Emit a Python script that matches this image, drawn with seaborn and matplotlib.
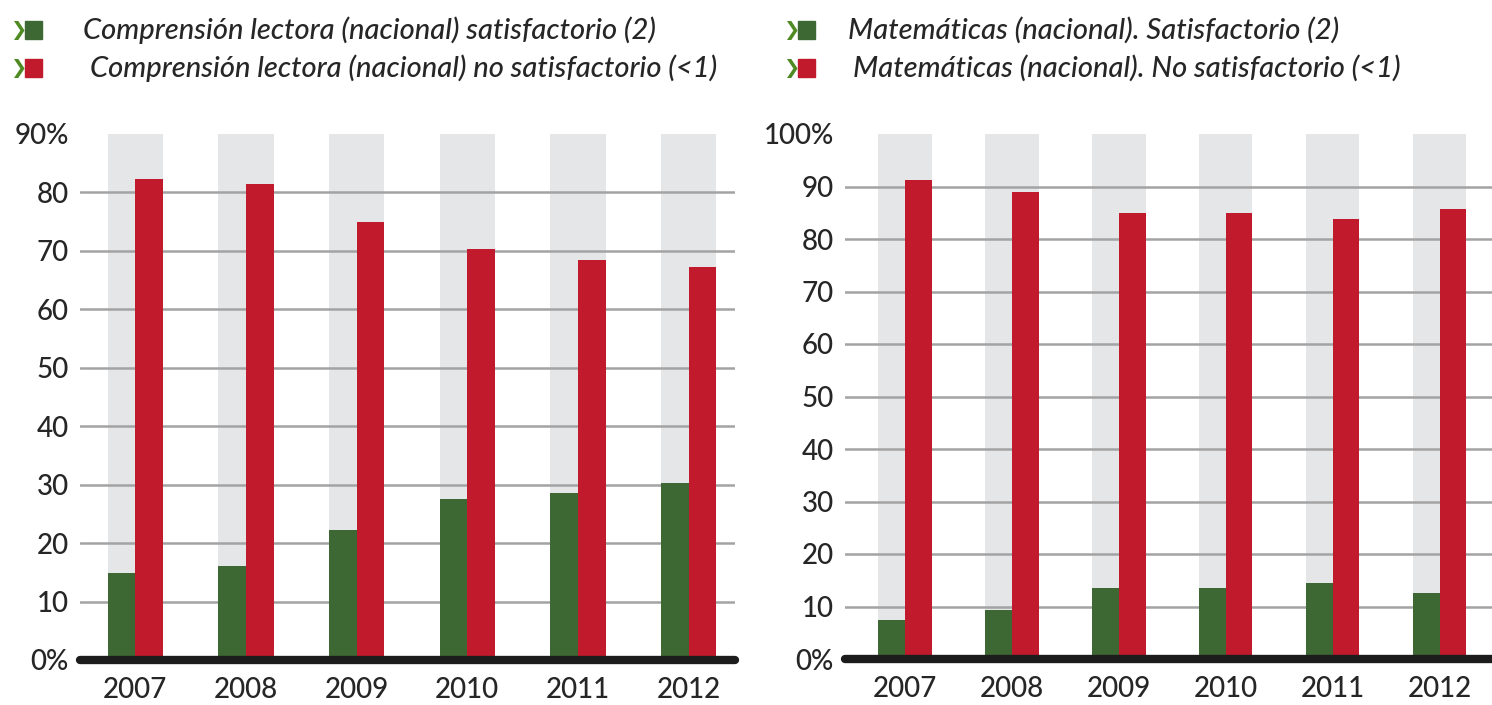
import numpy as np
import pandas as pd
import matplotlib
matplotlib.use('Agg')
import matplotlib.pyplot as plt
import seaborn as sns
from matplotlib.patches import Rectangle

years = ['2007', '2008', '2009', '2010', '2011', '2012']

lect_ok = [14.9, 16.1, 22.2, 27.5, 28.5, 30.2]
lect_no = [82.3, 81.4, 74.9, 70.3, 68.5, 67.2]
mat_ok = [7.4, 9.3, 13.5, 13.5, 14.4, 12.6]
mat_no = [91.2, 89.0, 84.9, 84.9, 83.9, 85.8]

lect_labels = ['Comprensión lectora (nacional) satisfactorio (2)',
               'Comprensión lectora (nacional) no satisfactorio (<1)']
mat_labels = ['Matemáticas (nacional). Satisfactorio (2)',
              'Matemáticas (nacional). No satisfactorio (<1)']

lect_ticks = [0, 10, 20, 30, 40, 50, 60, 70, 80, 90]
mat_ticks = [0, 10, 20, 30, 40, 50, 60, 70, 80, 90, 100]

GREEN = '#3d6834'
RED = '#c01a2c'
BAND = '#e5e6e8'
GRID = '#a3a3a3'
TXT = '#262626'
CHEV = '#4f8a22'

sns.set_theme(style='white')
plt.rcParams['font.family'] = ['Lato', 'DejaVu Sans']


def make_df(ok, no, labels):
    return pd.DataFrame({
        'year': years * 2,
        'serie': [labels[0]] * len(years) + [labels[1]] * len(years),
        'value': ok + no,
    })


def draw_panel(ax, df, labels, ticks, xlim):
    top = ticks[-1]
    ax.bar(np.arange(len(years)), top, width=0.5, color=BAND, lw=0, zorder=0.2)
    sns.barplot(data=df, x='year', y='value', hue='serie', hue_order=labels,
                palette=[GREEN, RED], width=0.5, gap=0, saturation=1,
                order=years, ax=ax, legend=False, zorder=1, linewidth=0)
    ax.set_ylim(0, top)
    ax.set_xlim(*xlim)
    ax.set_yticks(ticks)
    tl = [str(t) for t in ticks]
    tl[0] = '0%'
    tl[-1] = f'{ticks[-1]}%'
    ax.set_yticklabels(tl)
    ax.set_axisbelow(True)
    ax.yaxis.grid(True, color=GRID, lw=1.8)
    # no gridline at the top value
    ax.get_ygridlines()[-1].set_visible(False)
    ax.axhline(0, color='#1c1c1c', lw=6, zorder=3, clip_on=False)
    sns.despine(ax=ax, left=True, bottom=True)
    ax.tick_params(axis='y', length=0, pad=8, labelsize=20, labelcolor=TXT)
    ax.tick_params(axis='x', length=0, pad=12, labelsize=20, labelcolor=TXT)
    for t in ax.get_xticklabels() + ax.get_yticklabels():
        t.set_fontweight('medium')
    ax.set_xlabel('')
    ax.set_ylabel('')


fig = plt.figure(figsize=(14.92, 7.05), dpi=100)
W, H = 1492, 705

ax1 = fig.add_axes([80 / W, 1 - 660 / H, 655 / W, 526 / H])
ax2 = fig.add_axes([845 / W, 1 - 659 / H, 647 / W, 525 / H])

draw_panel(ax1, make_df(lect_ok, lect_no, lect_labels), lect_labels, lect_ticks, (-0.5, 5.42))
draw_panel(ax2, make_df(mat_ok, mat_no, mat_labels), mat_labels, mat_ticks, (-0.56, 5.49))


def legend_block(x0, text_x, labels):
    for i, (lab, col) in enumerate(zip(labels, [GREEN, RED])):
        yc = 30 + 38 * i
        fig.text(x0 / W, 1 - yc / H, '\u276F', color=CHEV, fontsize=14,
                 family='DejaVu Sans', ha='left', va='center')
        fig.patches.append(Rectangle(((x0 + 15) / W, 1 - (yc + 9) / H), 17 / W, 18 / H,
                                     transform=fig.transFigure, color=col))
        fig.text(text_x[i] / W, 1 - yc / H, lab, color=TXT, fontsize=21,
                 style='italic', fontweight='medium', ha='left', va='center')


legend_block(10, [83, 90], lect_labels)
legend_block(783, [848, 853], mat_labels)

fig.savefig('out.png', dpi=100)
